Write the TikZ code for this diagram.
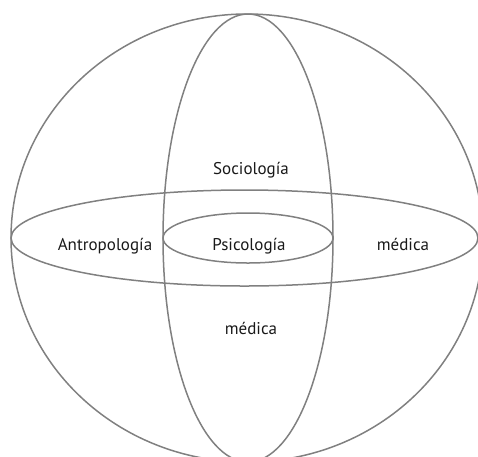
\documentclass[tikz,border=0pt]{standalone}
\usepackage{fontspec}
\setmainfont{PT Sans}
\begin{document}
\begin{tikzpicture}[x=1pt,y=-1pt,
  ring/.style={draw=black!50, line width=1.5pt},
  label/.style={anchor=base, inner sep=0pt, font=\fontsize{17}{20}\selectfont, text=black!90}]
\useasboundingbox (0,0) rectangle (478,456);
% outer sphere
\draw[ring] (247,238) ellipse [x radius=236, y radius=224];
% vertical band
\draw[ring] (248,238) ellipse [x radius=85, y radius=224];
% horizontal band
\draw[ring] (244.5,238) ellipse [x radius=233.5, y radius=48];
% central core
\draw[ring] (248,238) ellipse [x radius=85, y radius=25];
% labels
\node[label] (soc) at (251,174) {Sociología};
\node[label] (ant) at (105,250) {Antropología};
\node[label] (psi) at (249,250) {Psicología};
\node[label] (medr) at (403,250) {médica};
\node[label] (medb) at (251,334) {médica};
\end{tikzpicture}
\end{document}
